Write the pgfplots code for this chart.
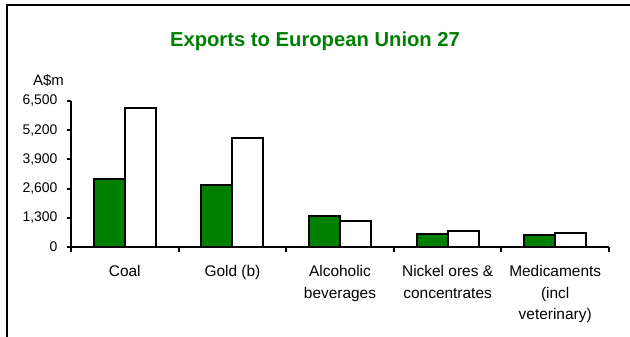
\documentclass[border=0pt]{standalone}
\usepackage{pgfplots}
\pgfplotsset{compat=1.18}
\usepackage{fontspec}
\setmainfont{Liberation Sans}
\definecolor{barGreen}{RGB}{0,128,0}
\begin{document}
\begin{tikzpicture}[x=1bp,y=1bp]
\useasboundingbox (0,0) rectangle (630,336);
\draw[line width=2bp] (6.5,-5) -- (6.5,331.3) -- (640,331.3);
\node[font=\bfseries\fontsize{20.3}{24}\selectfont, text=barGreen, anchor=base] at (315,290) {Exports to European Union 27};
\node[font=\fontsize{15}{18}\selectfont, anchor=base] at (48.5,251) {A\$m};
\begin{axis}[
  at={(71bp,89bp)}, anchor=south west,
  scale only axis, width=538bp, height=146bp,
  xmin=-0.5, xmax=4.5, ymin=0, ymax=6500,
  axis x line=bottom, axis y line=left,
  axis line style={-, line width=2bp, black},
  ybar=0pt, bar width=31bp,
  xtick={0,...,4},
  xticklabels={Coal, Gold (b), {Alcoholic\\beverages}, {Nickel ores \&\\concentrates}, {Medicaments\\(incl\\veterinary)}},
  x tick label style={font=\fontsize{15.5}{21.5}\selectfont, align=center, anchor=north, yshift=-11bp},
  major x tick style={draw=none},
  minor xtick={-0.5,0.5,1.5,2.5,3.5,4.5},
  minor x tick style={line width=2bp, black},
  minor tick length=5bp,
  major tick length=4bp,
  tick align=outside,
  ytick={0,1300,2600,3900,5200,6500},
  y tick style={line width=2bp, black},
  y tick label style={font=\fontsize{14}{16}\selectfont, xshift=-6bp},
  scaled y ticks=false,
  /pgf/number format/.cd, fixed, 1000 sep={,}, assume math mode=true,
]
\addplot[fill=barGreen, draw=black, line width=2bp] coordinates {(0,3030) (1,2740) (2,1375) (3,595) (4,550)};
\addplot[fill=white, draw=black, line width=2bp] coordinates {(0,6175) (1,4845) (2,1140) (3,710) (4,620)};
\end{axis}
\end{tikzpicture}
\end{document}
